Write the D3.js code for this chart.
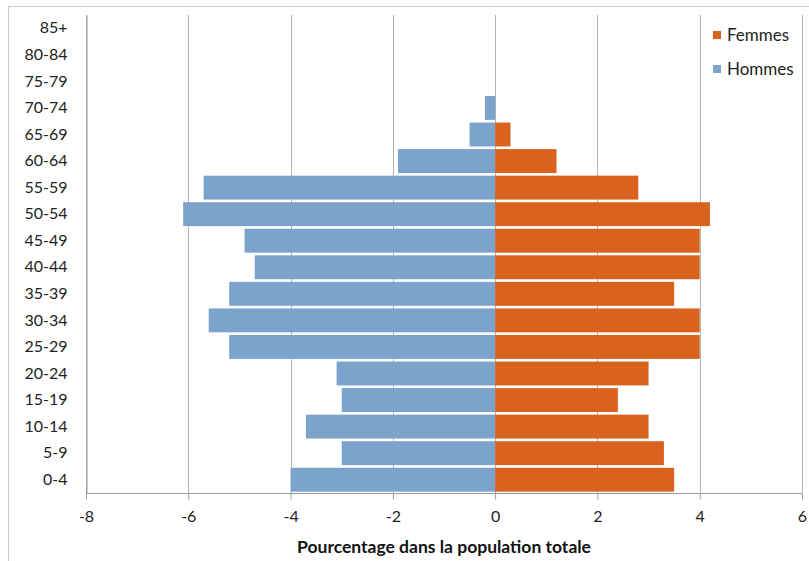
<!DOCTYPE html>
<html><head><meta charset="utf-8">
<script src="https://cdn.jsdelivr.net/npm/d3@7"></script>
<style>
html,body{margin:0;padding:0;background:#fff;}
svg{display:block;font-family:Lato,"Open Sans",sans-serif;}
</style></head>
<body><svg id="c" width="809" height="561"></svg>
<script>
const ageGroups = ["0-4","5-9","10-14","15-19","20-24","25-29","30-34","35-39","40-44","45-49","50-54","55-59","60-64","65-69","70-74","75-79","80-84","85+"];
const hommes = [-4.0,-3.0,-3.7,-3.0,-3.1,-5.2,-5.6,-5.2,-4.7,-4.9,-6.1,-5.7,-1.9,-0.5,-0.2,0,0,0];
const femmes = [3.5,3.3,3.0,2.4,3.0,4.0,4.0,3.5,4.0,4.0,4.2,2.8,1.2,0.3,0,0,0,0];
const xTicks = [-8,-6,-4,-2,0,2,4,6];
const xTitle = "Pourcentage dans la population totale";
const seriesNames = ["Femmes","Hommes"];
const colors = {Femmes:"#D9621F", Hommes:"#7BA3CB"};

(function(){
const svg = d3.select("#c");
svg.append("path").attr("d","M8.5,561 V6.5 H809").attr("fill","none").attr("stroke","#c8c8c8").attr("stroke-width",1);

const pL = 86, pR = 802, pT = 15, pB = 493;
const x = d3.scaleLinear().domain([-8,6]).range([pL,pR]);
const y = d3.scaleBand().domain(ageGroups.slice().reverse()).range([pT,pB]).paddingInner(0.1).paddingOuter(0.05);

svg.append("g").selectAll("line").data(xTicks).join("line")
  .attr("x1",d=>Math.round(x(d))+0.5).attr("x2",d=>Math.round(x(d))+0.5)
  .attr("y1",pT).attr("y2",pB)
  .attr("stroke","#b3b3b3").attr("stroke-width",1);

const rows = ageGroups.map((g,i)=>({g, h:hommes[i], f:femmes[i]}));
svg.append("g").selectAll("rect").data(rows).join("rect")
  .attr("x",d=>x(Math.min(0,d.h))).attr("width",d=>Math.abs(x(d.h)-x(0)))
  .attr("y",d=>y(d.g)).attr("height",y.bandwidth())
  .attr("fill",colors.Hommes);
svg.append("g").selectAll("rect").data(rows).join("rect")
  .attr("x",x(0)).attr("width",d=>Math.abs(x(d.f)-x(0)))
  .attr("y",d=>y(d.g)).attr("height",y.bandwidth())
  .attr("fill",colors.Femmes);

const xa = svg.append("g").attr("transform",`translate(0,${pB+0.5})`)
  .call(d3.axisBottom(x).tickValues(xTicks).tickSize(6).tickPadding(11).tickFormat(d3.format("d")));
xa.select(".domain").attr("stroke","#999").attr("d",`M${pL},0H${pR}`);
xa.selectAll(".tick line").attr("stroke","#999");
xa.selectAll("text").attr("font-size",16).attr("fill","#222").attr("font-family","Lato,sans-serif");
xa.selectAll(".tick text").text(d=>d<0?"-"+Math.abs(d):d);

const ya = svg.append("g").attr("transform",`translate(${pL+0.5},0)`)
  .call(d3.axisLeft(y).tickSize(0).tickPadding(19));
ya.select(".domain").attr("stroke","#999");
ya.selectAll("text").attr("font-size",16).attr("fill","#222").attr("font-family","Lato,sans-serif");

svg.append("text").attr("x",444).attr("y",553).attr("text-anchor","middle")
  .attr("font-size",17.5).attr("font-weight","bold").attr("fill","#111").text(xTitle);

const lg = svg.append("g");
seriesNames.forEach((n,i)=>{
  lg.append("rect").attr("x",713).attr("y",31+i*34).attr("width",8).attr("height",8).attr("fill",colors[n]);
  lg.append("text").attr("x",727).attr("y",41+i*34).attr("font-size",17).attr("fill","#222").text(n);
});
})();
</script></body></html>
